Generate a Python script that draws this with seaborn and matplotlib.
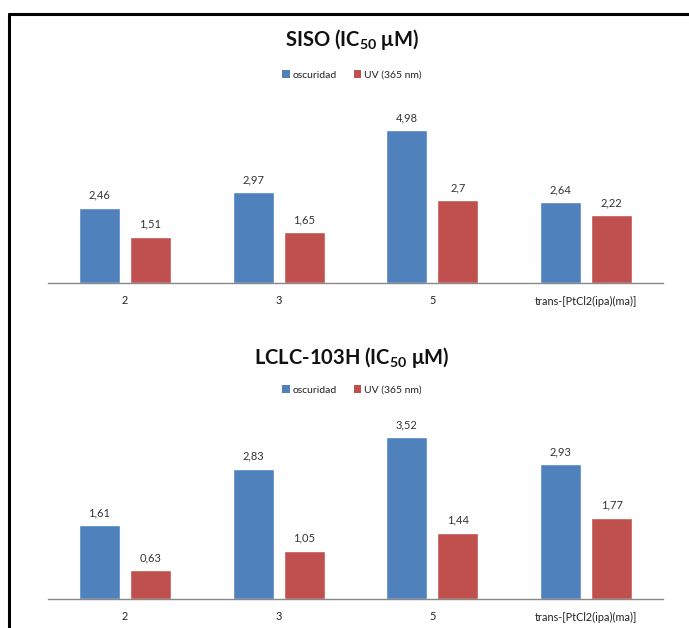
import matplotlib
matplotlib.use("Agg")
import matplotlib.pyplot as plt
import seaborn as sns
import pandas as pd
from matplotlib.lines import Line2D
from matplotlib.patches import Patch

categories = ["2", "3", "5", "trans-[PtCl2(ipa)(ma)]"]
series_names = ["oscuridad", "UV (365 nm)"]
siso_oscuridad = [2.46, 2.97, 4.98, 2.64]
siso_uv = [1.51, 1.65, 2.70, 2.22]
lclc_oscuridad = [1.61, 2.83, 3.52, 2.93]
lclc_uv = [0.63, 1.05, 1.44, 1.77]
titles = ["SISO (IC$_{50}$ μM)", "LCLC-103H (IC$_{50}$ μM)"]
ylims = [6, 4]
label_text = {"2.46": "2,46", "1.51": "1,51", "2.97": "2,97", "1.65": "1,65",
              "4.98": "4,98", "2.7": "2,7", "2.64": "2,64", "2.22": "2,22",
              "1.61": "1,61", "0.63": "0,63", "2.83": "2,83", "1.05": "1,05",
              "3.52": "3,52", "1.44": "1,44", "2.93": "2,93", "1.77": "1,77"}

sns.set_style("white")
plt.rcParams["font.family"] = ["Lato", "DejaVu Sans"]
plt.rcParams["mathtext.default"] = "regular"

colors = ["#4F81BD", "#C0504D"]
W, H = 689, 628
fig = plt.figure(figsize=(W / 100, H / 100), dpi=100)

def make_df(osc, uv):
    rows = []
    for c, v in zip(categories, osc):
        rows.append({"cat": c, "serie": series_names[0], "val": v})
    for c, v in zip(categories, uv):
        rows.append({"cat": c, "serie": series_names[1], "val": v})
    return pd.DataFrame(rows)

datasets = [(siso_oscuridad, siso_uv), (lclc_oscuridad, lclc_uv)]
baselines = [283, 599]
title_y = [40, 357]
legend_y = [75, 390]
plot_h = 184

for i, (osc, uv) in enumerate(datasets):
    df = make_df(osc, uv)
    ax = fig.add_axes([48 / W, (H - baselines[i]) / H, 615 / W, plot_h / H])
    sns.barplot(data=df, x="cat", y="val", hue="serie", order=categories,
                hue_order=series_names, palette=colors, width=0.664, gap=0.195,
                saturation=1, ax=ax, legend=False, errorbar=None)
    ax.set_ylim(0, ylims[i])
    ax.set_xlim(-0.5, 3.5)
    ax.set_xlabel("")
    ax.set_ylabel("")
    ax.set_yticks([])
    for s in ["top", "right", "left"]:
        ax.spines[s].set_visible(False)
    ax.spines["bottom"].set_color("#888888")
    ax.spines["bottom"].set_linewidth(1.0)
    ax.tick_params(axis="x", length=0, pad=9, labelsize=7.8, labelcolor="#222222")
    for cont in ax.containers:
        labs = [label_text[f"{v:g}"] for v in cont.datavalues]
        ax.bar_label(cont, labels=labs, padding=5, fontsize=8, color="#333333")
    fig.text(352 / W, (H - title_y[i]) / H, titles[i], ha="center", va="center",
             fontsize=14.5, fontweight="bold", color="#111111")
    handles = [Patch(facecolor=colors[0], edgecolor="none"),
               Patch(facecolor=colors[1], edgecolor="none")]
    fig.legend(handles, series_names, loc="center",
               bbox_to_anchor=(352 / W, (H - legend_y[i]) / H), ncol=2,
               frameon=False, fontsize=7.5, handlelength=0.7, handleheight=0.7,
               handletextpad=0.3, columnspacing=1.6, labelcolor="#222222")

# outer border (top and left)
fig.add_artist(Line2D([9 / W, 1.0], [(H - 14) / H, (H - 14) / H], color="black",
                      lw=2.2, transform=fig.transFigure))
fig.add_artist(Line2D([9 / W, 9 / W], [0, (H - 14) / H], color="black",
                      lw=2.2, transform=fig.transFigure))

fig.savefig("out.png", dpi=100)
